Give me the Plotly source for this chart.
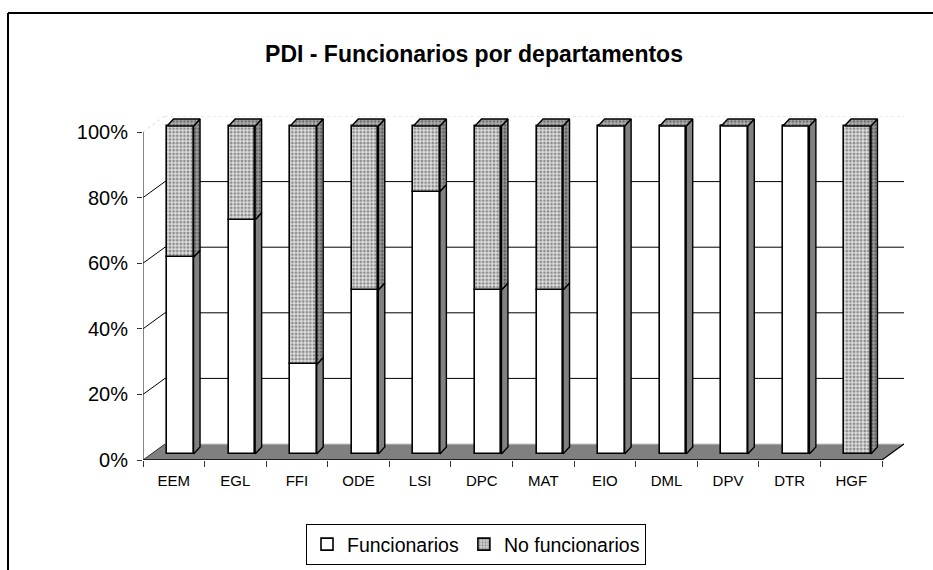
import plotly.graph_objects as go

# ---------------- data ----------------
categories = ["EEM", "EGL", "FFI", "ODE", "LSI", "DPC", "MAT", "EIO", "DML", "DPV", "DTR", "HGF"]
funcionarios = [60, 71.4, 27.3, 50, 80, 50, 50, 100, 100, 100, 100, 0]
no_funcionarios = [40, 28.6, 72.7, 50, 20, 50, 50, 0, 0, 0, 0, 100]
y_ticks = [0, 20, 40, 60, 80, 100]
title_text = "PDI - Funcionarios por departamentos"

# ---------------- geometry (px -> data) ----------------
W, H = 933, 570
L, R, T, B = 143, 29, 116, 110
PXX = 61.58          # px per category
PXY = 3.28           # px per percent
DX, DY = 22 / PXX, 16 / PXY          # wall depth
OX, OY = 6.5 / PXX, 6 / PXY          # bar front offset
BX, BY = 6.5 / PXX, 7 / PXY          # bar depth
BW = 26.5 / PXX                      # bar width
n = len(categories)
XR = [-0.5, n - 0.5 + DX]
YR = [0, 100 + DY]
plot_w = W - L - R
plot_h = H - T - B

def paper_x(px):
    return (px - L) / plot_w

def paper_y(py):
    return (H - B - py) / plot_h

FONT = "Liberation Sans, Arial, sans-serif"

PAT_FRONT = dict(shape=".", bgcolor="#dedede", fgcolor="#333333", size=3.6, solidity=0.45)
PAT_SIDE = dict(shape=".", bgcolor="#999999", fgcolor="#222222", size=3.6, solidity=0.45)
PAT_TOP = dict(shape=".", bgcolor="#b0b0b0", fgcolor="#2a2a2a", size=3.6, solidity=0.45)

fig = go.Figure()

xs = [i + OX for i in range(n)]
base_f = [OY] * n
base_nf = [OY + v for v in funcionarios]

fig.add_trace(go.Bar(
    name="Funcionarios", x=xs, y=funcionarios, base=base_f, width=BW,
    marker=dict(color="white", line=dict(color="black", width=1.6)),
    hoverinfo="skip"))
fig.add_trace(go.Bar(
    name="No funcionarios", x=xs, y=no_funcionarios, base=base_nf, width=BW,
    marker=dict(color="#dedede", line=dict(color="black", width=1.6),
                pattern=PAT_FRONT),
    hoverinfo="skip"))

# side faces
def side_polys(vals, bases):
    px, py = [], []
    for i, (v, b) in enumerate(zip(vals, bases)):
        if v <= 0:
            continue
        xr = xs[i] + BW / 2
        y0, y1 = b, b + v
        px += [xr, xr + BX, xr + BX, xr, xr, None]
        py += [y0, y0 + BY, y1 + BY, y1, y0, None]
    return px, py

sx, sy = side_polys(funcionarios, base_f)
fig.add_trace(go.Scatter(x=sx, y=sy, mode="lines", fill="toself",
                         fillcolor="#808080", line=dict(color="black", width=1.4),
                         showlegend=False, hoverinfo="skip"))
sx, sy = side_polys(no_funcionarios, base_nf)
fig.add_trace(go.Scatter(x=sx, y=sy, mode="lines", fill="toself",
                         fillcolor="#999999", fillpattern=PAT_SIDE,
                         line=dict(color="black", width=1.4),
                         showlegend=False, hoverinfo="skip"))

# top faces
tx, ty = [], []
for i in range(n):
    xl, xr = xs[i] - BW / 2, xs[i] + BW / 2
    top = base_nf[i] + no_funcionarios[i]
    tx += [xl, xl + BX, xr + BX, xr, xl, None]
    ty += [top, top + BY, top + BY, top, top, None]
fig.add_trace(go.Scatter(x=tx, y=ty, mode="lines", fill="toself",
                         fillcolor="#b0b0b0", fillpattern=PAT_TOP,
                         line=dict(color="black", width=1.4),
                         showlegend=False, hoverinfo="skip"))

# ---------------- walls / floor ----------------
shapes = []
x_left, x_right = -0.5, n - 0.5
# floor
shapes.append(dict(type="path", xref="x", yref="y", layer="below",
                   path=f"M {x_left},0 L {x_right},0 L {x_right+DX},{DY} L {x_left+DX},{DY} Z",
                   fillcolor="#808080", line=dict(width=0)))
shapes.append(dict(type="line", xref="x", yref="y", layer="below",
                   x0=x_left + DX, y0=DY, x1=x_right + DX, y1=DY,
                   line=dict(color="#c8c8c8", width=1)))
shapes.append(dict(type="line", xref="x", yref="y", layer="below",
                   x0=x_right, y0=0, x1=x_right + DX, y1=DY,
                   line=dict(color="black", width=1.2)))
shapes.append(dict(type="line", xref="x", yref="y", layer="below",
                   x0=x_left, y0=0, x1=x_left + DX, y1=DY,
                   line=dict(color="#333333", width=1)))
shapes.append(dict(type="line", xref="x", yref="y", layer="below",
                   x0=x_left, y0=0, x1=x_right, y1=0,
                   line=dict(color="black", width=1.5)))
# gridlines on back wall + side wall
for v in y_ticks[1:-1]:
    shapes.append(dict(type="line", xref="x", yref="y", layer="below",
                       x0=x_left + DX, y0=v + DY, x1=x_right + DX, y1=v + DY,
                       line=dict(color="black", width=1)))
    shapes.append(dict(type="line", xref="x", yref="y", layer="below",
                       x0=x_left, y0=v, x1=x_left + DX, y1=v + DY,
                       line=dict(color="black", width=1)))
top_v = y_ticks[-1]
shapes.append(dict(type="line", xref="x", yref="y", layer="below",
                   x0=x_left + DX, y0=top_v + DY, x1=x_right + DX, y1=top_v + DY,
                   line=dict(color="#dcdcdc", width=1, dash="dot")))
shapes.append(dict(type="line", xref="x", yref="y", layer="below",
                   x0=x_left, y0=top_v, x1=x_left + DX, y1=top_v + DY,
                   line=dict(color="#dcdcdc", width=1, dash="dot")))
# front value axis line
shapes.append(dict(type="line", xref="x", yref="y", layer="above",
                   x0=x_left, y0=0, x1=x_left, y1=top_v,
                   line=dict(color="#333333", width=1.2)))
# outer chart frame (left + top edges)
shapes.append(dict(type="line", xref="paper", yref="paper",
                   x0=paper_x(8), y0=paper_y(13), x1=paper_x(8), y1=paper_y(600),
                   line=dict(color="black", width=2)))
shapes.append(dict(type="line", xref="paper", yref="paper",
                   x0=paper_x(8), y0=paper_y(13), x1=paper_x(960), y1=paper_y(13),
                   line=dict(color="black", width=2)))

fig.update_layout(
    width=W, height=H,
    margin=dict(l=L, r=R, t=T, b=B),
    paper_bgcolor="white", plot_bgcolor="white",
    barmode="overlay", bargap=0,
    shapes=shapes,
    font=dict(family=FONT, color="black"),
    title=dict(text="<b>" + title_text + "</b>", x=474 / W, xref="container",
               y=1 - 54 / H, yref="container", xanchor="center", yanchor="middle",
               font=dict(family=FONT, size=23, color="black")),
    xaxis=dict(range=XR, showgrid=False, zeroline=False, showline=False,
               tickmode="array", tickvals=list(range(n)), ticktext=categories,
               ticks="", tickfont=dict(size=15, family=FONT, color="black"),
               ticklabelstandoff=10,
               minor=dict(ticks="outside", tick0=-0.5, dtick=1, ticklen=6,
                          tickcolor="#333333", tickwidth=1, showgrid=False)),
    yaxis=dict(range=YR, showgrid=False, zeroline=False, showline=False,
               tickmode="array", tickvals=y_ticks,
               ticktext=[f"{v}%" for v in y_ticks],
               ticks="outside", ticklen=5, tickcolor="#333333", tickwidth=1,
               ticklabelstandoff=5,
               tickfont=dict(size=20, family=FONT, color="black")),
    legend=dict(orientation="h", xref="container", yref="container",
                x=476 / W, xanchor="center", y=1 - 524 / H, yanchor="top",
                bordercolor="black", borderwidth=1,
                font=dict(size=19.5, family=FONT, color="black"),
                itemwidth=30, traceorder="normal"),
    showlegend=True,
)

fig.write_html("out.html", config={"displayModeBar": False},
               post_script="document.body.style.margin='0';document.body.style.overflow='hidden';")
